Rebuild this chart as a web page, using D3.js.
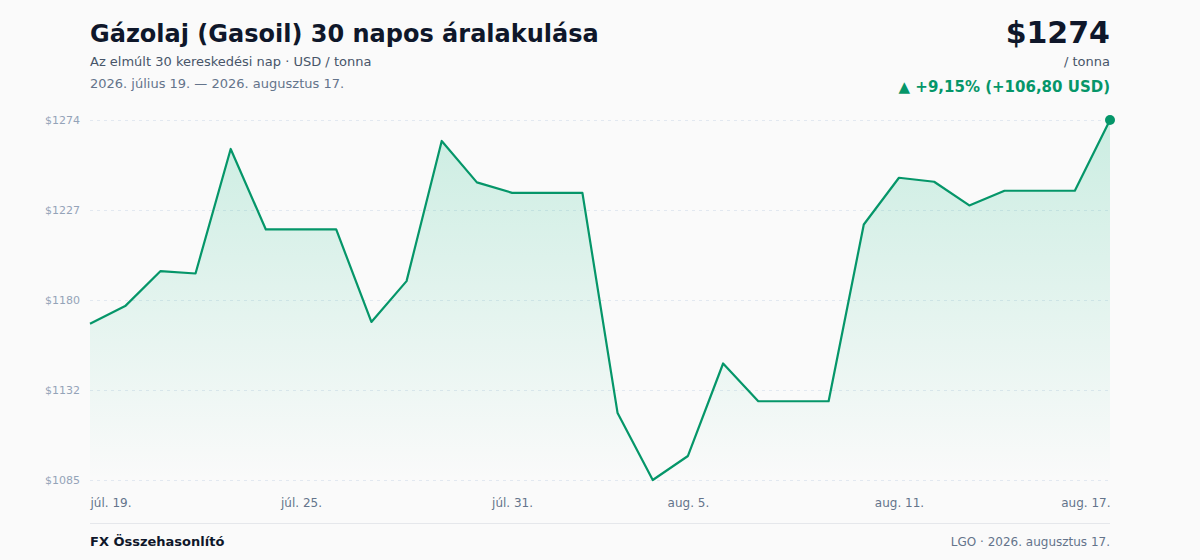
<!DOCTYPE html>
<html lang="hu">
<head>
  <meta charset="UTF-8">
  <title>Gázolaj 30 napos áralakulása</title>
  <script src="https://d3js.org/d3.v7.min.js"></script>
  <style>
    html, body {
      margin: 0;
      padding: 0;
      background: #fafafa;
      font-family: "DejaVu Sans", sans-serif;
    }
    svg { display: block; }
  </style>
</head>
<body>

<svg width="1200" height="560"></svg>

<script>

  // daily prices, 2026-07-19 .. 2026-08-17 (USD / tonna)
  const dates = d3.range(30).map(i => new Date(2026, 6, 19 + i));
  const prices = [
    1167.2, 1176.4, 1194.7, 1193.5, 1258.8, 1216.6, 1216.6, 1216.6, 1168.1, 1189.5,
    1263.0, 1241.3, 1235.8, 1235.8, 1235.8, 1120.3, 1085.2, 1097.8, 1146.3, 1126.5,
    1126.5, 1126.5, 1219.2, 1243.7, 1241.6, 1229.2, 1236.9, 1236.9, 1236.9, 1274.0
  ];
  const tickIdx = [0, 6, 12, 17, 23, 29];
  const monthsShort = ["jan.", "febr.", "márc.", "ápr.", "máj.", "jún.", "júl.", "aug.", "szept.", "okt.", "nov.", "dec."];

  const data = dates.map((d, i) => ({ date: d, value: prices[i] }));

  const svg = d3.select("svg");
  const width = +svg.attr("width");
  const height = +svg.attr("height");
  const margin = { top: 120, right: 90, bottom: 80, left: 90 };

  const x = d3.scaleTime()
    .domain(d3.extent(dates))
    .range([margin.left, width - margin.right]);

  const [minV, maxV] = d3.extent(prices);
  const y = d3.scaleLinear()
    .domain([minV, maxV])
    .range([height - margin.bottom, margin.top]);

  const green = "#059669";

  // header
  svg.append("text")
    .attr("x", 90).attr("y", 42)
    .attr("font-size", 24).attr("font-weight", "bold").attr("fill", "#0f172a")
    .text("Gázolaj (Gasoil) 30 napos áralakulása");
  svg.append("text")
    .attr("x", 90).attr("y", 66)
    .attr("font-size", 13).attr("fill", "#475569")
    .text("Az elmúlt 30 kereskedési nap · USD / tonna");
  svg.append("text")
    .attr("x", 90).attr("y", 88)
    .attr("font-size", 13).attr("fill", "#64748b")
    .text("2026. július 19. — 2026. augusztus 17.");

  const first = prices[0], last = prices[prices.length - 1];
  const diff = last - first;
  const pct = diff / first * 100;
  const huNum = v => v.toFixed(2).replace(".", ",");

  svg.append("text")
    .attr("x", 1110).attr("y", 43).attr("text-anchor", "end")
    .attr("font-size", 30).attr("font-weight", "bold").attr("fill", "#0f172a")
    .text("$" + Math.round(last));
  svg.append("text")
    .attr("x", 1110).attr("y", 66).attr("text-anchor", "end")
    .attr("font-size", 13).attr("fill", "#475569")
    .text("/ tonna");
  svg.append("text")
    .attr("x", 1110).attr("y", 92).attr("text-anchor", "end")
    .attr("font-size", 15).attr("font-weight", "bold").attr("fill", green)
    .text(`▲ +${huNum(pct)}% (+${huNum(diff)} USD)`);

  // gradient
  const grad = svg.append("defs").append("linearGradient")
    .attr("id", "fillGrad")
    .attr("x1", 0).attr("y1", 0).attr("x2", 0).attr("y2", 1);
  grad.append("stop").attr("offset", "0%").attr("stop-color", "#10b981").attr("stop-opacity", 0.2);
  grad.append("stop").attr("offset", "100%").attr("stop-color", "#10b981").attr("stop-opacity", 0.0);

  // y grid + labels
  const yTicks = d3.range(5).map(i => minV + i * (maxV - minV) / 4);
  const yAxis = d3.axisLeft(y)
    .tickValues(yTicks)
    .tickSize(-(width - margin.left - margin.right))
    .tickPadding(10)
    .tickFormat(d => "$" + Math.round(d));

  const gy = svg.append("g")
    .attr("transform", `translate(${margin.left},0)`)
    .call(yAxis);
  gy.select(".domain").remove();
  gy.selectAll("line")
    .attr("stroke", "#e2e8f0")
    .attr("stroke-dasharray", "3,4");
  gy.selectAll("text")
    .attr("fill", "#94a3b8")
    .attr("font-size", 11)
    .attr("font-family", "DejaVu Sans, sans-serif");

  // area + line
  const area = d3.area()
    .x(d => x(d.date))
    .y0(height - margin.bottom)
    .y1(d => y(d.value));
  const line = d3.line()
    .x(d => x(d.date))
    .y(d => y(d.value));

  svg.append("path")
    .datum(data)
    .attr("d", area)
    .attr("fill", "url(#fillGrad)");

  svg.append("path")
    .datum(data)
    .attr("d", line)
    .attr("fill", "none")
    .attr("stroke", green)
    .attr("stroke-width", 2.2)
    .attr("stroke-linejoin", "round");

  svg.append("circle")
    .attr("cx", x(dates[dates.length - 1]))
    .attr("cy", y(last))
    .attr("r", 5)
    .attr("fill", green);

  // x labels
  const xAxis = d3.axisBottom(x)
    .tickValues(tickIdx.map(i => dates[i]))
    .tickSize(0)
    .tickPadding(18)
    .tickFormat(d => `${monthsShort[d.getMonth()]} ${d.getDate()}.`);

  const gx = svg.append("g")
    .attr("transform", `translate(0,${height - margin.bottom})`)
    .call(xAxis);
  gx.select(".domain").remove();
  gx.selectAll("text")
    .attr("fill", "#64748b")
    .attr("font-size", 12)
    .attr("font-family", "DejaVu Sans, sans-serif")
    .attr("text-anchor", (d, i) => i === 0 ? "start" : (i === tickIdx.length - 1 ? "end" : "middle"));

  // footer
  svg.append("line")
    .attr("x1", 90).attr("x2", 1110)
    .attr("y1", 523.5).attr("y2", 523.5)
    .attr("stroke", "#e5e7eb");
  svg.append("text")
    .attr("x", 90).attr("y", 546)
    .attr("font-size", 13).attr("font-weight", "bold").attr("fill", "#0f172a")
    .text("FX Összehasonlító");
  svg.append("text")
    .attr("x", 1110).attr("y", 546).attr("text-anchor", "end")
    .attr("font-size", 12).attr("fill", "#64748b")
    .text("LGO · 2026. augusztus 17.");

</script>

</body>
</html>
